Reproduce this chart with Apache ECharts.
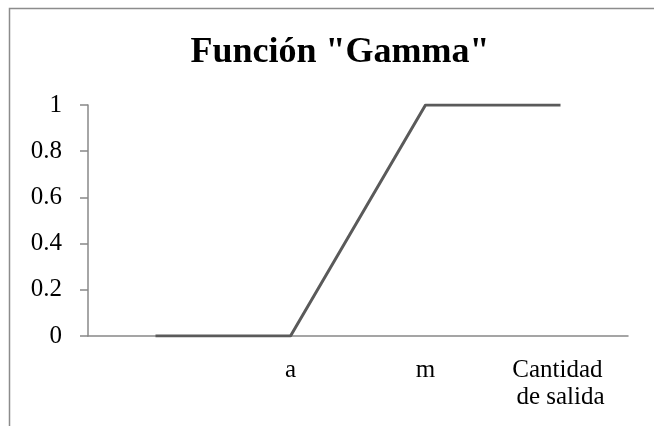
<!DOCTYPE html>
<html>
<head>
<meta charset="utf-8">
<script src="https://cdn.jsdelivr.net/npm/echarts@6/dist/echarts.min.js"></script>
<style>
  html, body { margin: 0; padding: 0; background: #ffffff; }
  #chart { width: 654px; height: 426px; }
</style>
</head>
<body>
<div id="chart"></div>
<script>
// Membership function "Gamma": zero up to a, linear rise to m, then one.
const categories = ['', 'a', 'm', 'Cantidad de salida'];
const membership = [0, 0, 1, 1];
const yTicks = { min: 0, max: 1, step: 0.2 };

const serif = '"Liberation Serif", "DejaVu Serif", serif';
const axisGray = '#888888';

const chart = echarts.init(document.getElementById('chart'), null, { renderer: 'canvas' });

chart.setOption({
  animation: false,
  backgroundColor: '#ffffff',
  title: {
    text: 'Función "Gamma"',
    left: 335,
    top: 30,
    textAlign: 'center',
    textStyle: {
      fontFamily: serif,
      fontWeight: 'bold',
      fontSize: 36,
      color: '#000000'
    }
  },
  graphic: [{
    type: 'rect',
    silent: true,
    shape: { x: 9.5, y: 8.5, width: 700, height: 500 },
    style: { fill: 'none', stroke: '#8c8c8c', lineWidth: 1.5 }
  }],
  grid: { left: 88, right: 26, top: 105, bottom: 90, containLabel: false },
  xAxis: {
    type: 'category',
    data: categories,
    boundaryGap: true,
    axisLine: { lineStyle: { color: axisGray, width: 1.5 } },
    axisTick: { show: false },
    axisLabel: {
      interval: 0,
      margin: 21,
      fontFamily: serif,
      fontSize: 25,
      lineHeight: 27,
      color: '#000000',
      width: 104,
      overflow: 'break'
    },
    splitLine: { show: false }
  },
  yAxis: {
    type: 'value',
    min: yTicks.min,
    max: yTicks.max,
    interval: yTicks.step,
    axisLine: { show: true, lineStyle: { color: axisGray, width: 1.5 } },
    axisTick: { show: true, length: 8, lineStyle: { color: axisGray, width: 1.5 } },
    axisLabel: {
      margin: 26,
      fontFamily: serif,
      fontSize: 25,
      color: '#000000'
    },
    splitLine: { show: false }
  },
  series: [{
    type: 'line',
    data: membership,
    showSymbol: false,
    symbol: 'none',
    lineStyle: { color: '#5a5a5a', width: 3 },
    itemStyle: { color: '#5a5a5a' }
  }]
});
</script>
</body>
</html>
